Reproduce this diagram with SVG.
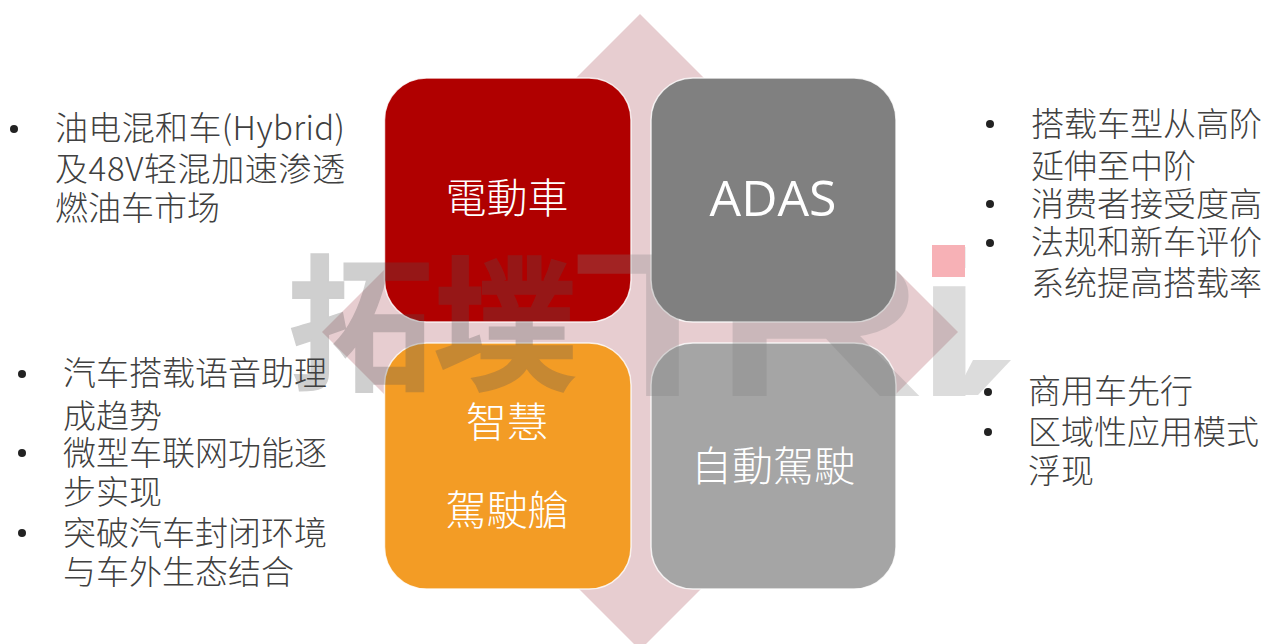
<svg xmlns="http://www.w3.org/2000/svg" width="1267" height="644" viewBox="0 0 1267 644">
<style>
.b{font-family:"Noto Sans CJK SC","Noto Sans",sans-serif;font-size:33px;font-weight:300;fill:#404040}
.n{font-family:"Noto Sans CJK TC","Noto Sans",sans-serif;font-size:41px;font-weight:300;fill:#fff;text-anchor:middle}
.w{font-family:"Noto Sans CJK SC",sans-serif;font-weight:700;font-size:146px;fill:#555;stroke:#555;stroke-width:1.5}
.t{font-family:"Liberation Sans",sans-serif;font-size:200px;fill:#808080;stroke:#808080;stroke-width:4}
.box{stroke:#fff;stroke-width:1.5;stroke-opacity:.8}
.d{fill:#222}
</style>
<rect width="1267" height="644" fill="#fff"/>
<g id="backdrop"><polygon points="640,14 958,332 640,650 322,332" fill="#e7cdd0"/></g>
<g id="n1"><rect class="box" x="384.5" y="78" width="246.5" height="244" rx="42" fill="#b00000"/><text class="n" x="507" y="213">電動車</text></g>
<g id="n2"><rect class="box" x="651" y="78" width="245" height="244" rx="42" fill="#808080"/><text class="n" x="773" y="216" style="font-family:'Open Sans',sans-serif;font-size:50px;font-weight:400">ADAS</text></g>
<g id="n3"><rect class="box" x="384.5" y="343" width="246.5" height="246" rx="42" fill="#f39c25"/><text class="n" x="507" y="437">智慧</text><text class="n" x="507" y="525">駕駛艙</text></g>
<g id="n4"><rect class="box" x="651" y="343" width="245" height="246" rx="42" fill="#a5a5a5"/><text class="n" x="773" y="481">自動駕駛</text></g>
<g id="watermark">
<g opacity=".28"><text class="w" x="288" y="378" textLength="290" lengthAdjust="spacingAndGlyphs">拓墣</text></g>
<g opacity=".27">
<text class="t" transform="translate(574 394) scale(1.45 1)">T</text>
<text class="t" transform="translate(711 394) scale(1.5 1)">R</text>
<text class="t" transform="translate(916 394) scale(1.5 1)">i</text>
<polygon points="973,360 1011,360 978,395 955,395" fill="#808080"/>
</g>
<rect x="932" y="245" width="33" height="32" fill="#f7b1b6"/>
</g>
<g id="left-top"><circle class="d" cx="14" cy="129" r="4"/>
<text class="b" x="55" y="140" textLength="290">油电混和车(Hybrid)</text><text class="b" x="55" y="181" textLength="290">及48V轻混加速渗透</text><text class="b" x="55" y="220">燃油车市场</text></g>
<g id="left-bottom"><circle class="d" cx="22" cy="374" r="4"/><circle class="d" cx="22" cy="453" r="4"/><circle class="d" cx="22" cy="533" r="4"/>
<text class="b" x="63" y="385">汽车搭载语音助理</text><text class="b" x="63" y="428">成趋势</text><text class="b" x="63" y="465">微型车联网功能逐</text><text class="b" x="63" y="504">步实现</text><text class="b" x="63" y="545">突破汽车封闭环境</text><text class="b" x="63" y="584">与车外生态结合</text></g>
<g id="right-top"><circle class="d" cx="990" cy="124" r="4"/><circle class="d" cx="990" cy="204" r="4"/><circle class="d" cx="990" cy="243" r="4"/>
<text class="b" x="1031" y="136">搭载车型从高阶</text><text class="b" x="1031" y="178">延伸至中阶</text><text class="b" x="1031" y="216">消费者接受度高</text><text class="b" x="1031" y="254">法规和新车评价</text><text class="b" x="1031" y="295">系统提高搭载率</text></g>
<g id="right-bottom"><circle class="d" cx="988" cy="392" r="4"/><circle class="d" cx="988" cy="432" r="4"/>
<text class="b" x="1028" y="403">商用车先行</text><text class="b" x="1028" y="444">区域性应用模式</text><text class="b" x="1028" y="483">浮现</text></g>
</svg>
